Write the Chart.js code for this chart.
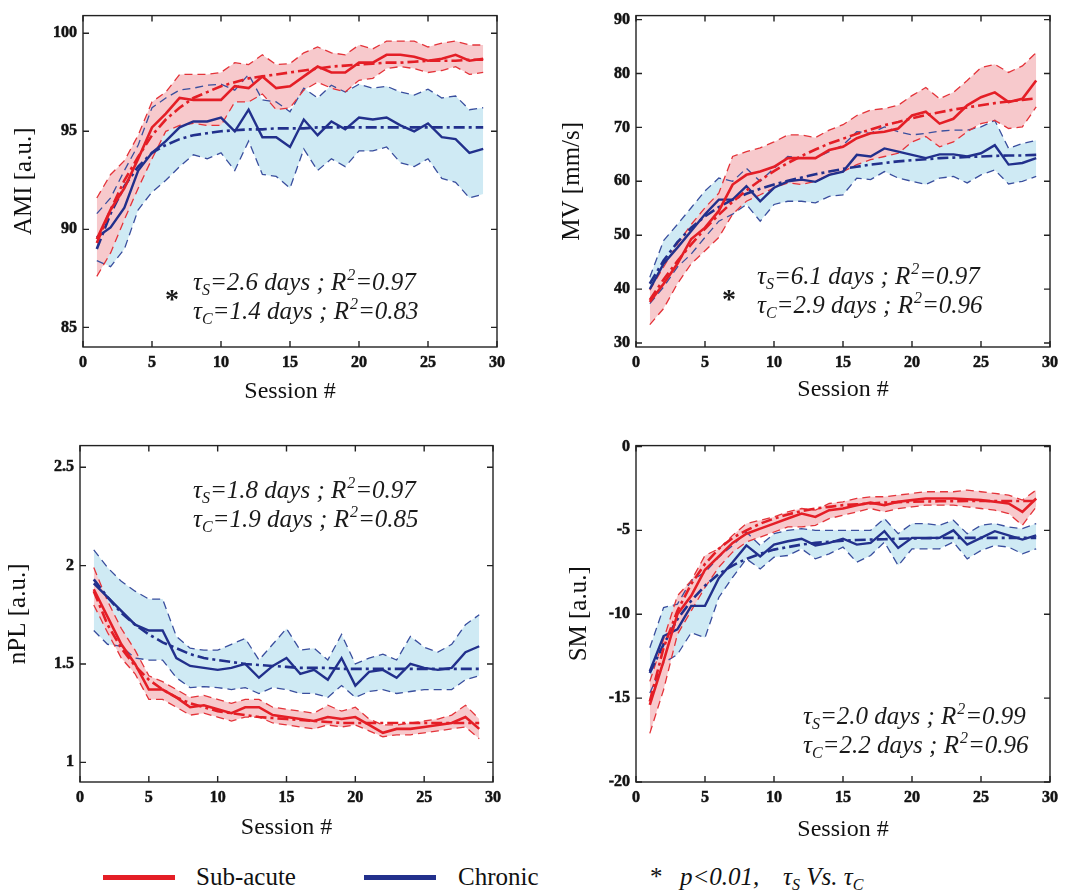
<!DOCTYPE html>
<html>
<head>
<meta charset="utf-8">
<script src="https://cdn.jsdelivr.net/npm/chart.js@4.4.1/dist/chart.umd.min.js"></script>
<style>
body { margin: 0; background: #fff; width: 1077px; height: 892px; position: relative; overflow: hidden; font-family: "Liberation Serif", serif; color: #111; }
canvas { position: absolute; }
.swatch { position: absolute; top: 875px; width: 72px; height: 5px; }
.lab { position: absolute; top: 862px; font-size: 25px; line-height: 30px; white-space: nowrap; }
.it { font-style: italic; }
sub { font-size: 16px; vertical-align: -5px; }
</style>
</head>
<body>
<canvas id="amiChart" width="540" height="420" style="left:0;top:0"></canvas>
<canvas id="mvChart" width="537" height="420" style="left:540px;top:0"></canvas>
<canvas id="nplChart" width="540" height="420" style="left:0;top:430px"></canvas>
<canvas id="smChart" width="537" height="420" style="left:540px;top:430px"></canvas>

<span class="swatch" style="left:103px;background:#e41e26"></span>
<span class="lab" style="left:196px">Sub-acute</span>
<span class="swatch" style="left:364px;background:#22308c"></span>
<span class="lab" style="left:458px">Chronic</span>
<span class="lab" style="left:650px">*</span>
<span class="lab it" style="left:680px">p&lt;0.01,</span>
<span class="lab it" style="left:783px">&tau;<sub>S</sub> Vs. &tau;<sub>C</sub></span>

<script>
'use strict'

// x axis: session number
const sessions = [1, 2, 3, 4, 5, 6, 7, 8, 9, 10, 11, 12, 13, 14, 15, 16, 17, 18, 19, 20, 21, 22, 23, 24, 25, 26, 27, 28, 29];
const xTicks = [0, 5, 10, 15, 20, 25, 30];

// AMI [a.u.]
const amiTicks = [85, 90, 95, 100];
const amiSubMean = [89.5, 91.0, 92.1, 93.6, 95.2, 95.9, 96.7, 96.6, 96.6, 96.6, 97.3, 97.2, 97.8, 97.2, 97.3, 97.8, 98.3, 98.0, 98.0, 98.5, 98.5, 98.9, 98.9, 98.8, 98.6, 98.7, 98.9, 98.6, 98.7];
const amiSubUp = [91.6, 92.8, 93.5, 94.8, 96.5, 97.0, 97.9, 97.9, 97.9, 98.0, 98.5, 98.4, 98.9, 98.4, 98.45, 99.0, 99.3, 99.0, 98.9, 99.4, 99.2, 99.6, 99.6, 99.6, 99.3, 99.5, 99.6, 99.4, 99.4];
const amiSubLo = [87.6, 88.8, 90.5, 92.1, 93.6, 95.0, 95.3, 95.4, 95.3, 95.3, 96.5, 96.5, 96.9, 96.1, 96.2, 97.1, 97.5, 97.2, 97.0, 97.6, 97.7, 98.2, 98.3, 98.2, 98.0, 98.1, 98.3, 97.9, 98.0];
const amiSubFit = [89.3, 91.0, 92.5, 93.7, 94.8, 95.6, 96.2, 96.7, 97.0, 97.3, 97.5, 97.7, 97.8, 97.9, 98.0, 98.1, 98.2, 98.3, 98.35, 98.4, 98.45, 98.5, 98.5, 98.55, 98.6, 98.6, 98.6, 98.65, 98.65];
const amiChrMean = [89.6, 90.1, 91.1, 93.0, 93.9, 94.5, 95.2, 95.5, 95.5, 95.7, 95.0, 96.1, 94.7, 94.7, 94.2, 95.6, 94.8, 95.5, 95.1, 95.7, 95.6, 95.7, 95.3, 95.0, 95.4, 94.7, 94.6, 93.9, 94.1];
const amiChrUp = [90.8, 91.6, 93.0, 94.3, 96.2, 96.7, 97.1, 97.2, 97.35, 97.4, 97.1, 97.9, 96.6, 96.5, 96.0, 97.2, 96.7, 97.35, 97.0, 97.4, 97.2, 97.3, 97.0, 96.85, 97.15, 96.7, 96.8, 96.1, 96.2];
const amiChrLo = [88.4, 88.1, 89.0, 91.0, 91.9, 92.5, 93.2, 93.8, 93.6, 93.9, 93.0, 94.5, 92.8, 92.7, 92.1, 94.1, 93.0, 93.6, 93.2, 94.0, 94.0, 94.2, 93.4, 93.2, 93.6, 92.6, 92.4, 91.6, 91.8];
const amiChrFit = [89.0, 90.8, 92.2, 93.2, 93.9, 94.3, 94.6, 94.8, 94.9, 95.0, 95.05, 95.1, 95.1, 95.15, 95.15, 95.15, 95.2, 95.2, 95.2, 95.2, 95.2, 95.2, 95.2, 95.2, 95.2, 95.2, 95.2, 95.2, 95.2];

// MV [mm/s]
const mvTicks = [30, 40, 50, 60, 70, 80, 90];
const mvSubMean = [37.6, 41.0, 44.7, 49.3, 51.4, 54.5, 59.4, 61.2, 61.8, 62.7, 64.3, 64.3, 64.3, 65.8, 66.4, 68.0, 68.9, 69.2, 69.8, 72.2, 72.9, 70.7, 71.6, 74.1, 75.6, 76.5, 74.7, 75.3, 78.7];
const mvSubUp = [39.8, 44.1, 48.4, 52.0, 55.1, 57.8, 64.6, 65.5, 66.2, 67.3, 68.6, 68.6, 68.1, 69.5, 70.5, 72.2, 73.2, 73.5, 74.1, 75.9, 77.4, 75.3, 76.5, 78.7, 81.1, 81.7, 80.2, 81.4, 83.9];
const mvSubLo = [33.4, 36.4, 41.0, 44.7, 47.1, 49.6, 53.9, 56.3, 57.5, 58.8, 59.7, 59.4, 60.0, 61.2, 61.8, 63.1, 64.0, 64.6, 65.2, 67.3, 68.3, 66.4, 67.3, 69.2, 70.7, 71.3, 69.8, 70.1, 73.8];
const mvSubFit = [38.0, 41.8, 45.2, 48.3, 51.2, 53.8, 56.2, 58.3, 60.2, 61.9, 63.4, 64.7, 65.9, 67.0, 67.9, 68.8, 69.6, 70.4, 71.0, 71.7, 72.3, 72.8, 73.3, 73.7, 74.1, 74.5, 74.8, 75.1, 75.4];
const mvChrMean = [40.0, 44.7, 47.7, 50.8, 53.9, 56.6, 56.6, 59.1, 56.3, 58.8, 60.0, 60.3, 59.9, 61.2, 61.8, 64.9, 64.6, 66.1, 65.5, 64.9, 64.3, 65.0, 65.0, 64.6, 65.2, 66.7, 63.1, 63.4, 64.3];
const mvChrUp = [42.2, 49.0, 52.0, 55.1, 58.2, 60.6, 60.0, 62.4, 60.0, 62.4, 64.6, 64.3, 64.3, 65.5, 66.7, 69.2, 68.9, 70.1, 69.2, 68.6, 68.9, 69.3, 69.5, 69.5, 70.1, 71.3, 66.1, 67.0, 67.6];
const mvChrLo = [37.3, 40.4, 44.1, 46.5, 49.6, 52.6, 53.9, 55.7, 52.6, 55.7, 56.3, 56.3, 56.0, 57.2, 57.5, 60.6, 60.3, 61.8, 60.6, 60.0, 59.4, 60.6, 60.9, 59.7, 61.2, 62.1, 59.5, 60.0, 60.9];
const mvChrFit = [41.0, 45.3, 48.7, 51.4, 53.5, 55.2, 56.6, 57.7, 58.6, 59.4, 60.1, 60.7, 61.3, 61.8, 62.3, 62.7, 63.1, 63.4, 63.7, 63.9, 64.1, 64.3, 64.4, 64.5, 64.6, 64.7, 64.8, 64.8, 64.9];

// nPL [a.u.]
const nplTicks = [1, 1.5, 2, 2.5];
const nplSubMean = [1.88, 1.74, 1.60, 1.50, 1.37, 1.37, 1.33, 1.28, 1.29, 1.27, 1.25, 1.28, 1.28, 1.24, 1.23, 1.22, 1.21, 1.23, 1.22, 1.23, 1.19, 1.15, 1.17, 1.17, 1.18, 1.19, 1.20, 1.23, 1.17];
const nplSubUp = [1.99, 1.82, 1.68, 1.57, 1.44, 1.41, 1.37, 1.33, 1.34, 1.32, 1.30, 1.32, 1.32, 1.28, 1.27, 1.26, 1.25, 1.29, 1.26, 1.28, 1.22, 1.19, 1.19, 1.20, 1.21, 1.22, 1.24, 1.29, 1.22];
const nplSubLo = [1.80, 1.66, 1.53, 1.45, 1.32, 1.32, 1.28, 1.24, 1.25, 1.23, 1.21, 1.23, 1.23, 1.20, 1.19, 1.18, 1.17, 1.19, 1.18, 1.19, 1.16, 1.13, 1.14, 1.14, 1.15, 1.16, 1.17, 1.18, 1.12];
const nplSubFit = [1.87, 1.70, 1.58, 1.49, 1.42, 1.37, 1.33, 1.30, 1.28, 1.26, 1.25, 1.24, 1.23, 1.225, 1.22, 1.215, 1.21, 1.205, 1.2, 1.2, 1.2, 1.2, 1.2, 1.2, 1.2, 1.2, 1.2, 1.2, 1.2];
const nplChrMean = [1.91, 1.84, 1.77, 1.70, 1.67, 1.67, 1.53, 1.49, 1.48, 1.47, 1.48, 1.50, 1.43, 1.49, 1.53, 1.45, 1.47, 1.42, 1.53, 1.39, 1.46, 1.47, 1.43, 1.50, 1.48, 1.47, 1.48, 1.56, 1.59];
const nplChrUp = [2.08, 1.99, 1.92, 1.87, 1.83, 1.83, 1.64, 1.58, 1.57, 1.57, 1.60, 1.63, 1.52, 1.60, 1.68, 1.57, 1.58, 1.52, 1.65, 1.50, 1.53, 1.55, 1.52, 1.64, 1.585, 1.56, 1.60, 1.70, 1.75];
const nplChrLo = [1.67, 1.60, 1.59, 1.53, 1.52, 1.52, 1.43, 1.38, 1.385, 1.38, 1.37, 1.38, 1.35, 1.38, 1.37, 1.35, 1.35, 1.33, 1.39, 1.33, 1.36, 1.37, 1.35, 1.36, 1.37, 1.37, 1.37, 1.42, 1.44];
const nplChrFit = [1.93, 1.84, 1.76, 1.70, 1.65, 1.61, 1.58, 1.55, 1.53, 1.52, 1.51, 1.50, 1.495, 1.49, 1.485, 1.48, 1.48, 1.48, 1.475, 1.475, 1.475, 1.475, 1.475, 1.475, 1.475, 1.475, 1.475, 1.475, 1.475];

// SM [a.u.]
const smTicks = [-20, -15, -10, -5, 0];
const smSubMean = [-15.4, -12.8, -10.0, -8.9, -7.35, -6.55, -5.75, -5.2, -4.9, -4.6, -4.3, -4.0, -4.2, -3.8, -3.7, -3.5, -3.35, -3.5, -3.3, -3.2, -3.1, -3.1, -3.1, -3.15, -3.2, -3.3, -3.4, -3.9, -3.1];
const smSubUp = [-14.0, -11.5, -8.9, -8.0, -6.5, -6.1, -5.3, -4.6, -4.4, -4.2, -3.9, -3.7, -3.8, -3.4, -3.3, -3.1, -3.0, -3.0, -2.9, -2.8, -2.7, -2.7, -2.7, -2.6, -2.7, -2.8, -2.9, -3.2, -2.6];
const smSubLo = [-17.1, -14.5, -11.2, -9.8, -8.4, -7.2, -6.3, -5.7, -5.4, -5.1, -4.8, -4.8, -4.7, -4.3, -4.1, -3.9, -3.7, -3.9, -3.7, -3.6, -3.5, -3.5, -3.5, -3.6, -3.7, -3.8, -4.0, -4.7, -3.6];
const smSubFit = [-15.2, -12.0, -9.8, -8.2, -7.0, -6.1, -5.45, -5.0, -4.6, -4.3, -4.05, -3.85, -3.7, -3.6, -3.5, -3.45, -3.4, -3.35, -3.32, -3.3, -3.28, -3.27, -3.26, -3.25, -3.25, -3.25, -3.25, -3.25, -3.25];
const smChrMean = [-13.4, -11.3, -10.9, -9.5, -9.5, -7.85, -6.9, -5.9, -6.55, -5.85, -5.65, -5.5, -5.9, -5.75, -5.5, -5.85, -5.75, -5.05, -6.05, -5.45, -5.45, -5.45, -5.0, -5.85, -5.45, -5.05, -5.3, -5.55, -5.3];
const smChrUp = [-12.0, -9.6, -9.4, -8.0, -7.5, -6.6, -5.9, -5.1, -5.9, -5.2, -5.0, -4.9, -5.0, -5.0, -5.0, -5.0, -5.0, -4.3, -5.2, -4.6, -4.6, -4.7, -4.4, -5.2, -4.7, -4.6, -4.8, -4.9, -4.6];
const smChrLo = [-14.7, -12.9, -12.4, -11.1, -11.4, -9.0, -7.8, -6.7, -7.3, -6.6, -6.5, -6.1, -6.7, -6.4, -6.0, -6.9, -6.5, -5.7, -7.1, -6.1, -6.1, -6.1, -5.7, -6.7, -6.2, -5.9, -6.0, -6.4, -6.1];
const smChrFit = [-13.5, -11.8, -10.3, -9.2, -8.3, -7.6, -7.1, -6.7, -6.4, -6.15, -6.0, -5.85, -5.75, -5.68, -5.62, -5.58, -5.55, -5.53, -5.5, -5.48, -5.47, -5.46, -5.45, -5.45, -5.45, -5.45, -5.45, -5.45, -5.45];

const RED = '#e41e26';
const RED_DASH = '#e4343a';
const RED_FILL = '#f7c9cc';
const BLUE = '#22308c';
const BLUE_DASH = '#3a4f9e';
const BLUE_FILL = '#cfeaf4';

const tickFont = { family: 'Liberation Serif', size: 16, weight: 'bold' };
const xTitleFont = { family: 'Liberation Serif', size: 24, lineHeight: 1 };
const yTitleFont = { family: 'Liberation Serif', size: 25, lineHeight: 1 };
const annoFont = 'italic 25px "Liberation Serif"';
const annoSmall = 'italic 16px "Liberation Serif"';

function pts(vals) {
    return vals.map(function(v, i) { return { x: sessions[i], y: v }; });
}

function line(vals, color, width, dash, fill, fillColor) {
    return {
        data: pts(vals),
        borderColor: color,
        borderWidth: width,
        borderDash: dash,
        pointRadius: 0,
        tension: 0,
        fill: fill,
        backgroundColor: fillColor || 'transparent'
    };
}

// writes one "tau_X=.. days ; R^2=.." line
function drawTau(ctx, x, y, letter, days, r2) {
    ctx.font = annoFont;
    ctx.fillText('\u03c4', x, y); x += ctx.measureText('\u03c4').width;
    ctx.font = annoSmall;
    ctx.fillText(letter, x, y + 5); x += ctx.measureText(letter).width;
    ctx.font = annoFont;
    let mid = '=' + days + ' days ; R';
    ctx.fillText(mid, x, y); x += ctx.measureText(mid).width;
    ctx.font = annoSmall;
    ctx.fillText('2', x + 1, y - 10); x += ctx.measureText('2').width + 1;
    ctx.font = annoFont;
    ctx.fillText('=' + r2, x, y);
}

const boxPlugin = {
    id: 'matlabBox',
    afterDraw(chart, args, opts) {
        const ctx = chart.ctx;
        const a = chart.chartArea;
        const xs = chart.scales.x, ys = chart.scales.y;
        ctx.save();
        ctx.strokeStyle = '#222';
        ctx.lineWidth = 1.4;
        ctx.strokeRect(a.left, a.top, a.right - a.left, a.bottom - a.top);
        ctx.beginPath();
        xs.ticks.forEach(function(t) {
            let px = xs.getPixelForValue(t.value);
            ctx.moveTo(px, a.bottom); ctx.lineTo(px, a.bottom - 6);
            ctx.moveTo(px, a.top); ctx.lineTo(px, a.top + 6);
        });
        ys.ticks.forEach(function(t) {
            let py = ys.getPixelForValue(t.value);
            ctx.moveTo(a.left, py); ctx.lineTo(a.left + 6, py);
            ctx.moveTo(a.right, py); ctx.lineTo(a.right - 6, py);
        });
        ctx.stroke();

        // fit annotation
        const an = opts.anno;
        ctx.fillStyle = '#1a1a1a';
        ctx.textBaseline = 'alphabetic';
        ctx.textAlign = 'left';
        drawTau(ctx, an.x, an.y, 'S', an.tauS, an.r2S);
        drawTau(ctx, an.x, an.y + 29, 'C', an.tauC, an.r2C);
        if (an.star) {
            ctx.font = 'bold 28px "Liberation Serif"';
            ctx.textAlign = 'center';
            ctx.fillText('*', an.star[0], an.star[1]);
        }
        ctx.restore();
    }
};

function makePanel(id, p) {
    let ctx = document.getElementById(id).getContext('2d');
    let datasets = [
        line(p.subMean, RED, 2.6, [], false),
        line(p.subFit, RED, 2.6, [11, 4, 3, 4], false),
        line(p.chrMean, BLUE, 2.4, [], false),
        line(p.chrFit, BLUE, 2.6, [11, 4, 3, 4], false),
        line(p.subUp, RED_DASH, 1.3, [8, 5], '+1', RED_FILL),
        line(p.subLo, RED_DASH, 1.3, [8, 5], false),
        line(p.chrUp, BLUE_DASH, 1.3, [8, 5], '+1', BLUE_FILL),
        line(p.chrLo, BLUE_DASH, 1.3, [8, 5], false)
    ];
    return new Chart(ctx, {
        type: 'line',
        data: { datasets: datasets },
        options: {
            responsive: false,
            animation: false,
            devicePixelRatio: 1,
            layout: { padding: { left: 0, top: p.top, right: p.right, bottom: 0 } },
            plugins: {
                legend: { display: false },
                tooltip: { enabled: false },
                filler: { drawTime: 'beforeDatasetsDraw' },
                matlabBox: { anno: p.anno }
            },
            scales: {
                x: {
                    type: 'linear', min: 0, max: 30,
                    afterBuildTicks: function(s) { s.ticks = xTicks.map(function(v) { return { value: v }; }); },
                    afterFit: function(s) { s.height = p.xH; },
                    grid: { display: false, drawTicks: false },
                    border: { display: false },
                    ticks: { padding: 6, autoSkip: false, maxRotation: 0, font: tickFont, color: '#111',
                             textStrokeColor: '#111', textStrokeWidth: 0.5,
                             callback: function(v) { return String(v); } },
                    title: { display: true, text: 'Session #', font: xTitleFont, color: '#111', padding: { top: 0, bottom: p.xtPad } }
                },
                y: {
                    type: 'linear', min: p.min, max: p.max,
                    afterBuildTicks: function(s) { s.ticks = p.ticks.map(function(v) { return { value: v }; }); },
                    afterFit: function(s) { s.width = p.yW; },
                    grid: { display: false, drawTicks: false },
                    border: { display: false },
                    ticks: { padding: 6, autoSkip: false, font: tickFont, color: '#111',
                             textStrokeColor: '#111', textStrokeWidth: 0.5,
                             callback: function(v) { return String(v); } },
                    title: { display: true, text: p.yTitle, font: yTitleFont, color: '#111', padding: { top: p.ytPad, bottom: 0 } }
                }
            }
        },
        plugins: [boxPlugin]
    });
}

makePanel('amiChart', {
    subMean: amiSubMean, subUp: amiSubUp, subLo: amiSubLo, subFit: amiSubFit,
    chrMean: amiChrMean, chrUp: amiChrUp, chrLo: amiChrLo, chrFit: amiChrFit,
    ticks: amiTicks, min: 84, max: 100.9, yTitle: 'AMI [a.u.]',
    top: 13, right: 43, xH: 73, yW: 83, xtPad: 16, ytPad: 11.5,
    anno: { x: 193, y: 290, tauS: '2.6', r2S: '0.97', tauC: '1.4', r2C: '0.83', star: [172, 308] }
});

makePanel('mvChart', {
    subMean: mvSubMean, subUp: mvSubUp, subLo: mvSubLo, subFit: mvSubFit,
    chrMean: mvChrMean, chrUp: mvChrUp, chrLo: mvChrLo, chrFit: mvChrFit,
    ticks: mvTicks, min: 29.26, max: 90.74, yTitle: 'MV [mm/s]',
    top: 13, right: 27, xH: 73, yW: 96, xtPad: 18, ytPad: 19.5,
    anno: { x: 217, y: 284, tauS: '6.1', r2S: '0.97', tauC: '2.9', r2C: '0.96', star: [189, 308] }
});

makePanel('nplChart', {
    subMean: nplSubMean, subUp: nplSubUp, subLo: nplSubLo, subFit: nplSubFit,
    chrMean: nplChrMean, chrUp: nplChrUp, chrLo: nplChrLo, chrFit: nplChrFit,
    ticks: nplTicks, min: 0.9, max: 2.61, yTitle: 'nPL [a.u.]',
    top: 15, right: 47, xH: 68, yW: 80, xtPad: 10, ytPad: 5.5,
    anno: { x: 193, y: 68, tauS: '1.8', r2S: '0.97', tauC: '1.9', r2C: '0.85' }
});

makePanel('smChart', {
    subMean: smSubMean, subUp: smSubUp, subLo: smSubLo, subFit: smSubFit,
    chrMean: smChrMean, chrUp: smChrUp, chrLo: smChrLo, chrFit: smChrFit,
    ticks: smTicks, min: -20, max: 0.05, yTitle: 'SM [a.u.]',
    top: 15, right: 27, xH: 68, yW: 96, xtPad: 8, ytPad: 26.5,
    anno: { x: 263, y: 294, tauS: '2.0', r2S: '0.99', tauC: '2.2', r2C: '0.96' }
});
</script>
</body>
</html>
